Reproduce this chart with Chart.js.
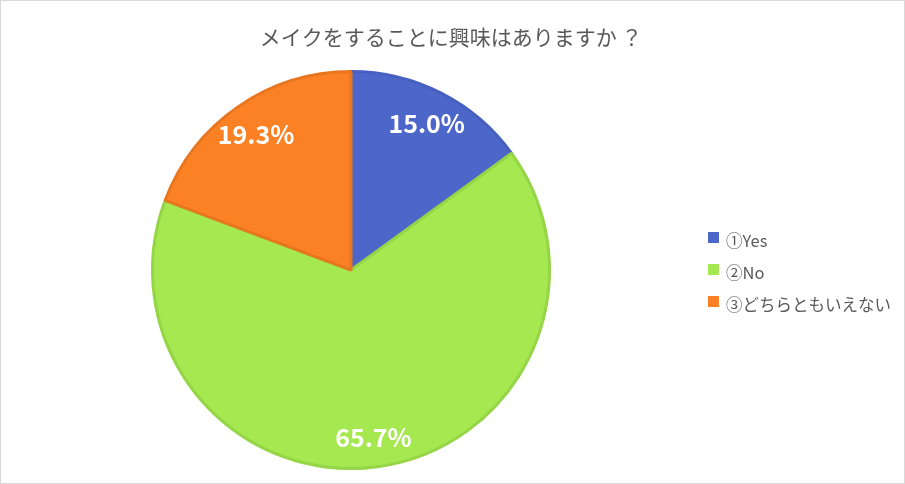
<!DOCTYPE html>
<html>
<head>
<meta charset="utf-8">
<script src="https://cdn.jsdelivr.net/npm/chart.js@4"></script>
<style>
html,body{margin:0;padding:0;background:#fff}
#wrap{position:relative;width:903px;height:482px;border:1px solid #d9d9d9}
</style>
</head>
<body>
<div id="wrap"><canvas id="chart" width="903" height="482"></canvas></div>
<script>
// data
const title = "メイクをすることに興味はありますか ？"
const labels = ["①Yes","②No","③どちらともいえない"]
const values = [15.0,65.7,19.3]
const colors = ["#4D66C9","#A5E850","#FB8124"]
const borders = ["#4660C0","#95D547","#E8761E"]

const FONT = "'Noto Sans CJK JP','Noto Sans',sans-serif"

// percent labels inside slices
const sliceLabels = {
id:"sliceLabels",
afterDatasetsDraw(c){
const ctx = c.ctx
const meta = c.getDatasetMeta(0)
ctx.save()
ctx.fillStyle = "#fff"
ctx.font = "bold 25px " + FONT
ctx.textAlign = "center"
ctx.textBaseline = "middle"
meta.data.forEach((arc,i)=>{
const mid = (arc.startAngle + arc.endAngle)/2
const r = arc.outerRadius * 0.84
ctx.fillText(values[i].toFixed(1) + "%", arc.x + Math.cos(mid)*r, arc.y + Math.sin(mid)*r + 2)
})
ctx.restore()
}
}

// title across the whole width + legend on the right
const sideLegend = {
id:"sideLegend",
afterDraw(c){
const ctx = c.ctx
ctx.save()
ctx.fillStyle = "#595959"
ctx.font = "21px " + FONT
ctx.textAlign = "center"
ctx.textBaseline = "middle"
ctx.fillText(title,450,36)

ctx.textAlign = "left"
ctx.font = "16.5px " + FONT
labels.forEach((l,i)=>{
const y = 240 + i*32
ctx.fillStyle = colors[i]
ctx.fillRect(707,y-9,11,11)
ctx.fillStyle = "#595959"
ctx.fillText(l,725,y)
})
ctx.restore()
}
}

new Chart(document.getElementById("chart"),{
type:"pie",
data:{
labels:labels,
datasets:[{
data:values,
backgroundColor:colors,
borderColor:borders,
borderWidth:3
}]
},
options:{
responsive:false,
animation:false,
layout:{padding:{left:0,right:203,top:69,bottom:13}},
plugins:{
legend:{display:false},
tooltip:{enabled:false},
title:{display:false}
}
},
plugins:[sliceLabels,sideLegend]
})
</script>
</body>
</html>
